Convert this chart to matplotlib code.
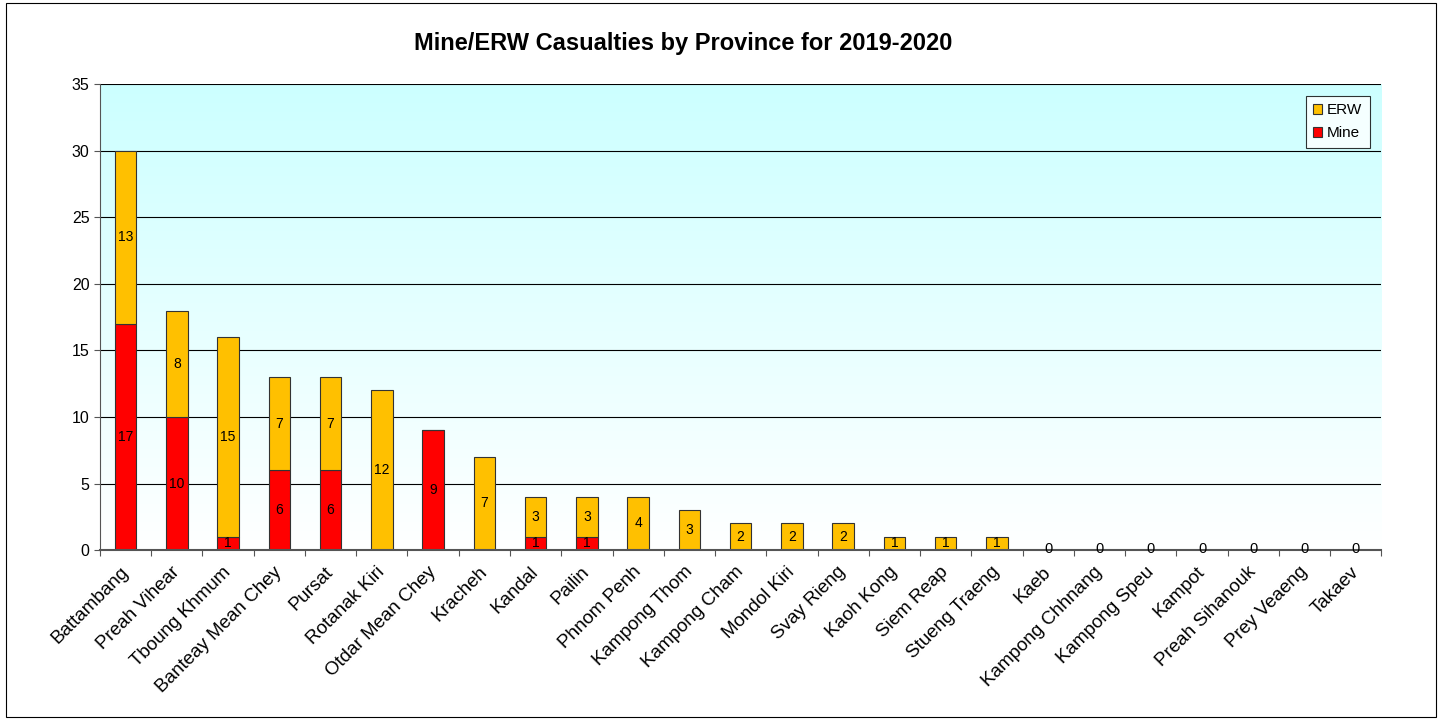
import numpy as np
import matplotlib
matplotlib.use("Agg")
import matplotlib.pyplot as plt
from matplotlib.patches import Rectangle

provinces = ["Battambang", "Preah Vihear", "Tboung Khmum", "Banteay Mean Chey", "Pursat",
             "Rotanak Kiri", "Otdar Mean Chey", "Kracheh", "Kandal", "Pailin", "Phnom Penh",
             "Kampong Thom", "Kampong Cham", "Mondol Kiri", "Svay Rieng", "Kaoh Kong",
             "Siem Reap", "Stueng Traeng", "Kaeb", "Kampong Chhnang", "Kampong Speu",
             "Kampot", "Preah Sihanouk", "Prey Veaeng", "Takaev"]
mine = [17, 10, 1, 6, 6, 0, 9, 0, 1, 1, 0, 0, 0, 0, 0, 0, 0, 0, 0, 0, 0, 0, 0, 0, 0]
erw = [13, 8, 15, 7, 7, 12, 0, 7, 3, 3, 4, 3, 2, 2, 2, 1, 1, 1, 0, 0, 0, 0, 0, 0, 0]

plt.rcParams['font.family'] = ['Liberation Sans', 'DejaVu Sans']

fig = plt.figure(figsize=(14.42, 7.2), dpi=100)
ax = fig.add_axes([0.0693, 0.236, 0.8887, 0.647])

x = np.arange(len(provinces))
# background gradient: light cyan at top, white at bottom
grad = np.linspace(1, 0, 256).reshape(-1, 1)
cmap = matplotlib.colors.LinearSegmentedColormap.from_list("bg", ["#ffffff", "#ccffff"])
ax.imshow(grad, cmap=cmap, aspect="auto", extent=[-0.5, len(provinces) - 0.5, 0, 35],
          origin="upper", zorder=0, vmin=0, vmax=1)

ax.yaxis.grid(True, color="black", linewidth=0.8, zorder=1)
ax.set_axisbelow(True)

w = 0.42
b1 = ax.bar(x, mine, w, color="#ff0000", edgecolor="#333333", linewidth=0.8, label="Mine", zorder=2)
b2 = ax.bar(x, erw, w, bottom=mine, color="#ffc000", edgecolor="#333333", linewidth=0.8, label="ERW", zorder=2)

for i in range(len(provinces)):
    if mine[i] > 0:
        ax.text(x[i], mine[i] / 2, str(mine[i]), ha="center", va="center", fontsize=10, zorder=3)
    if erw[i] > 0:
        ax.text(x[i], mine[i] + erw[i] / 2, str(erw[i]), ha="center", va="center", fontsize=10, zorder=3)
    if mine[i] == 0 and erw[i] == 0:
        ax.text(x[i], 0.05, "0", ha="center", va="center", fontsize=10.5, zorder=3)

ax.set_xlim(-0.5, len(provinces) - 0.5)
ax.set_ylim(0, 35)
ax.set_yticks(range(0, 36, 5))
ax.set_xticks(np.arange(len(provinces) + 1) - 0.5)
ax.set_xticklabels([])
ax.tick_params(axis="x", length=4, color="#555555")
ax.tick_params(axis="y", length=4, color="#555555", labelsize=11.5)
for i, p in enumerate(provinces):
    ax.text(x[i] + 0.12, -1.0, p, rotation=45, ha="right", va="top", fontsize=13.5)

for s in ["top", "right"]:
    ax.spines[s].set_visible(False)
ax.spines["left"].set_color("#555555")
ax.spines["bottom"].set_color("#555555")
ax.spines["bottom"].set_linewidth(1.5)

fig.text(0.474, 0.939, "Mine/ERW Casualties by Province for 2019-2020", ha="center", va="center",
         fontsize=17, fontweight="bold")

leg = ax.legend([b2, b1], ["ERW", "Mine"], loc="upper right", bbox_to_anchor=(0.997, 0.992),
                fancybox=False, edgecolor="black", fontsize=11, handlelength=0.6, handleheight=0.6,
                handletextpad=0.3, borderpad=0.5, labelspacing=0.6)
leg.get_frame().set_linewidth(0.8)

fig.patches.append(Rectangle((0.004, 0.004), 0.992, 0.992, transform=fig.transFigure,
                             fill=False, edgecolor="black", linewidth=0.8))

fig.savefig("out.png", dpi=100)
